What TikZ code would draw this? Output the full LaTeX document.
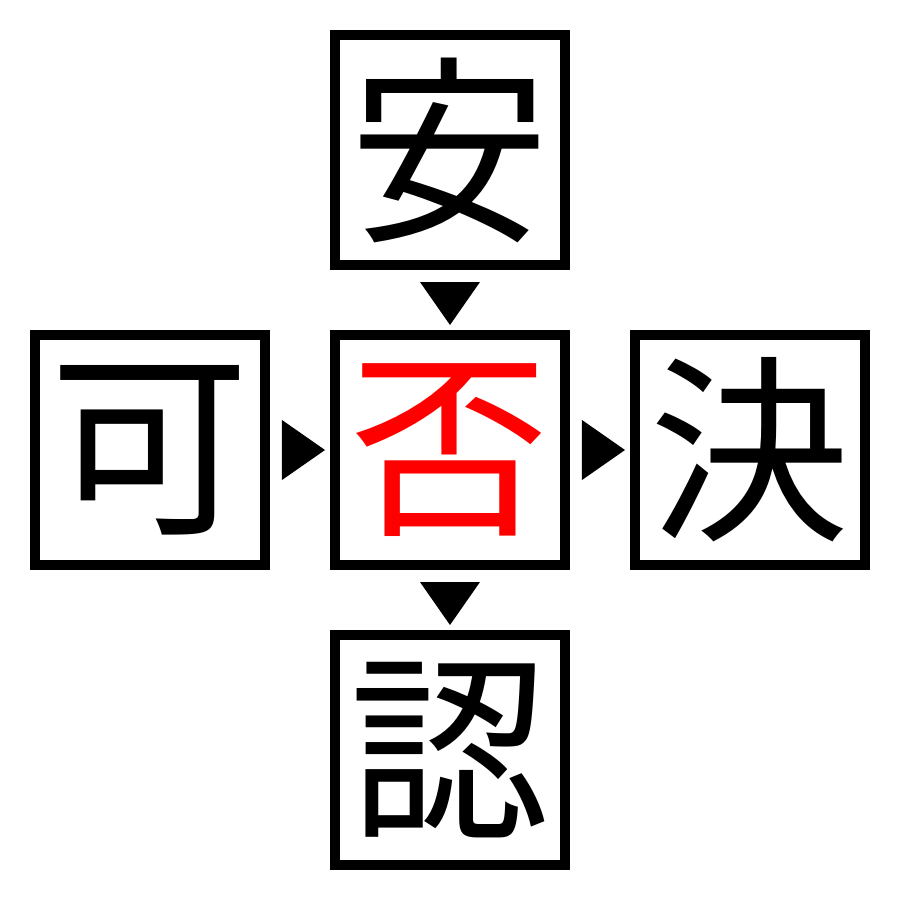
\documentclass[tikz,border=0pt]{standalone}
\usepackage{fontspec}
\newfontfamily\cjk{Noto Sans CJK JP}
\usetikzlibrary{calc}
\begin{document}
\begin{tikzpicture}[
    box/.style={draw, line width=0.1cm, minimum size=2.3cm, inner sep=0pt,
                font=\cjk\fontsize{57}{57}\selectfont}]
  \useasboundingbox[fill=white] (-4.5,-4.5) rectangle (4.5,4.5);
  \node[box] (an) at (0,3) {安};
  \node[box,text=red] (hi) at (0,0) {否};
  \node[box] (ka) at (-3,0) {可};
  \node[box] (ketsu) at (3,0) {決};
  \node[box] (nin) at (0,-3) {認};
  % marks between the boxes
  \fill ($(an.south)!0.5!(hi.north)$) ++(-0.3,0.18) -- ++(0.6,0) -- ++(-0.3,-0.43) -- cycle;
  \fill ($(ka.east)!0.5!(hi.west)$) ++(-0.18,0.3) -- ++(0,-0.6) -- ++(0.43,0.3) -- cycle;
  \fill ($(hi.east)!0.5!(ketsu.west)$) ++(-0.18,0.3) -- ++(0,-0.6) -- ++(0.43,0.3) -- cycle;
  \fill ($(hi.south)!0.5!(nin.north)$) ++(-0.3,0.18) -- ++(0.6,0) -- ++(-0.3,-0.43) -- cycle;
\end{tikzpicture}
\end{document}
